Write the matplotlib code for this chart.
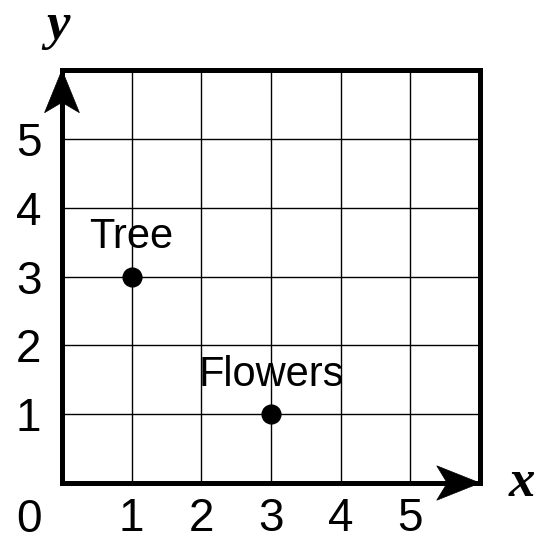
"""
plot.py
=======
Coordinate grid with two labelled points (Tree, Flowers).

Usage
-----
    python plot.py
"""

import matplotlib
matplotlib.use('Agg')

import matplotlib.pyplot as plt
from matplotlib.patches import Polygon


# ---------------------------------------------------------------------------
# Data
# ---------------------------------------------------------------------------

point_names = ['Tree', 'Flowers']
point_x     = [1, 3]
point_y     = [3, 1]

grid_max    = 6
tick_values = [1, 2, 3, 4, 5]
tick_labels = ['1', '2', '3', '4', '5']


# ---------------------------------------------------------------------------
# Helpers
# ---------------------------------------------------------------------------

def _arrow_head(tip, direction, length=0.62, half_width=0.25, notch=0.47):
    """Return a notched arrow head polygon pointing along +x or +y."""
    tx, ty = tip
    if direction == 'x':
        pts = [(tx, ty), (tx - length, ty + half_width),
               (tx - notch, ty), (tx - length, ty - half_width)]
    else:
        pts = [(tx, ty), (tx - half_width, ty - length),
               (tx, ty - notch), (tx + half_width, ty - length)]
    return Polygon(pts, closed=True, facecolor='black', edgecolor='black',
                   linewidth=0.5, zorder=5, clip_on=False)


# ---------------------------------------------------------------------------
# Plot
# ---------------------------------------------------------------------------

def main():
    plt.rcParams['font.family'] = ['Liberation Sans', 'DejaVu Sans']

    fig = plt.figure(figsize=(5.40, 5.41), dpi=100)
    ax = fig.add_axes([0.1148, 0.1072, 0.774, 0.7634])

    ax.set_xlim(0, grid_max)
    ax.set_ylim(0, grid_max)

    # grid lines
    for v in range(1, grid_max):
        ax.axvline(v, color='black', linewidth=1.0, zorder=1)
        ax.axhline(v, color='black', linewidth=1.0, zorder=1)

    for side in ['left', 'bottom', 'top', 'right']:
        ax.spines[side].set_linewidth(3.6)
        ax.spines[side].set_color('black')

    ax.set_xticks(tick_values, tick_labels)
    ax.set_yticks(tick_values, tick_labels)
    ax.tick_params(axis='both', length=0, labelsize=33)
    ax.tick_params(axis='x', pad=10)
    for lbl in ax.get_yticklabels():
        lbl.set_horizontalalignment('center')
    ax.tick_params(axis='y', pad=24)

    ax.text(-0.47, -0.54, '0', fontsize=33, ha='center', va='center',
            clip_on=False)

    # axis arrows
    ax.add_patch(_arrow_head((grid_max, 0), 'x'))
    ax.add_patch(_arrow_head((0, grid_max), 'y'))

    # axis names
    ax.text(grid_max + 0.6, 0, 'x', fontsize=38, fontstyle='italic',
            fontweight='bold', family=['Liberation Serif', 'DejaVu Serif'],
            ha='center', va='center', clip_on=False)
    ax.text(-0.06, grid_max + 0.64, 'y', fontsize=38, fontstyle='italic',
            fontweight='bold', family=['Liberation Serif', 'DejaVu Serif'],
            ha='center', va='center', clip_on=False)

    # points
    ax.plot(point_x, point_y, 'o', color='black', markersize=13.5, zorder=4)
    for name, px, py in zip(point_names, point_x, point_y):
        ax.text(px, py + 0.41, name, fontsize=30, ha='center',
                va='baseline', zorder=4)

    fig.savefig('out.png', dpi=100)
    plt.close('all')


if __name__ == '__main__':
    main()
